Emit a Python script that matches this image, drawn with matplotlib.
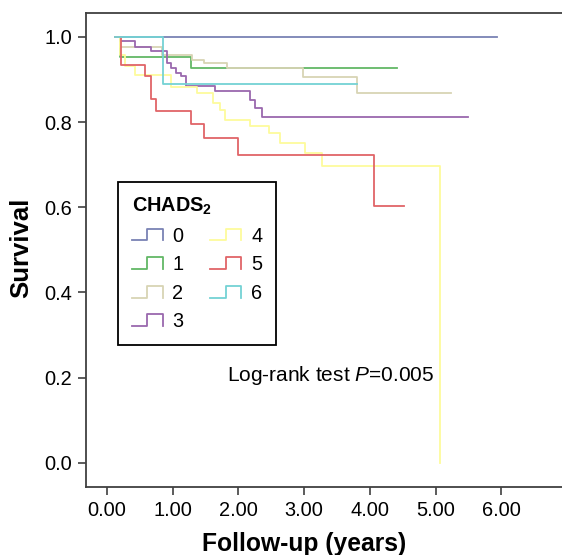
import numpy as np
import matplotlib
matplotlib.use("Agg")
import matplotlib.pyplot as plt
from matplotlib.lines import Line2D
from matplotlib.legend_handler import HandlerBase

plt.rcParams["font.family"] = ["Liberation Sans", "DejaVu Sans"]
plt.rcParams["mathtext.fontset"] = "custom"
plt.rcParams["mathtext.rm"] = "Liberation Sans"
plt.rcParams["mathtext.it"] = "Liberation Sans:italic"
plt.rcParams["mathtext.bf"] = "Liberation Sans:bold"

# Kaplan-Meier steps: step times, survival after each step, last follow-up
groups = ["0", "1", "2", "3", "4", "5", "6"]
t_first = 0.12

g0_times = []
g0_surv = []
g0_end = 5.94

g1_times = [0.20, 1.28]
g1_surv = [0.952, 0.926]
g1_end = 4.42

g2_times = [0.20, 0.83, 1.29, 1.47, 1.82, 2.99, 3.81]
g2_surv = [0.977, 0.958, 0.946, 0.938, 0.926, 0.905, 0.868]
g2_end = 5.24

g3_times = [0.20, 0.43, 0.67, 0.92, 0.98, 1.05, 1.12, 1.20, 1.64, 2.18, 2.26, 2.36]
g3_surv = [0.990, 0.977, 0.966, 0.938, 0.926, 0.915, 0.907, 0.885, 0.872, 0.852, 0.833, 0.813]
g3_end = 5.50

g4_times = [0.20, 0.27, 0.42, 0.98, 1.37, 1.62, 1.72, 1.80, 2.18, 2.46, 2.63, 3.01, 3.27, 5.07]
g4_surv = [0.958, 0.931, 0.911, 0.883, 0.868, 0.845, 0.829, 0.805, 0.790, 0.774, 0.751, 0.727, 0.697, 0.0]
g4_end = 5.07

g5_times = [0.21, 0.58, 0.665, 0.74, 1.28, 1.47, 2.00, 4.06]
g5_surv = [0.933, 0.907, 0.854, 0.825, 0.795, 0.762, 0.723, 0.602]
g5_end = 4.52

g6_times = [0.85]
g6_surv = [0.889]
g6_end = 3.80

colors = ["#7a82b4", "#62b866", "#d8d4b4", "#9a68ae", "#fdfb9c", "#e06468", "#74d2d4"]

data = [(g0_times, g0_surv, g0_end), (g1_times, g1_surv, g1_end),
        (g2_times, g2_surv, g2_end), (g3_times, g3_surv, g3_end),
        (g4_times, g4_surv, g4_end), (g5_times, g5_surv, g5_end),
        (g6_times, g6_surv, g6_end)]

x_ticks = [0, 1, 2, 3, 4, 5, 6]
x_labels = ["0.00", "1.00", "2.00", "3.00", "4.00", "5.00", "6.00"]
y_ticks = [0.0, 0.2, 0.4, 0.6, 0.8, 1.0]
y_labels = ["0.0", "0.2", "0.4", "0.6", "0.8", "1.0"]


class StepHandler(HandlerBase):
    # little step-shaped icon like the SPSS legend
    def create_artists(self, legend, orig_handle, xdescent, ydescent, width, height, fontsize, trans):
        xs = np.array([0, 0.5, 0.5, 1.0, 1.0]) * width - xdescent
        ys = np.array([0.1, 0.1, 0.95, 0.95, 0.1]) * height - ydescent
        ln = Line2D(xs, ys, color=orig_handle.get_color(), lw=1.3)
        ln.set_transform(trans)
        return [ln]


fig = plt.figure(figsize=(5.62, 5.55), dpi=100)
ax = fig.add_axes([0.153, 0.123, 0.847, 0.8536])

handles = []
for (times, surv, end), col, name in zip(data, colors, groups):
    x = [t_first] + times + [end]
    y = [1.0] + surv + [surv[-1] if surv else 1.0]
    line, = ax.step(x, y, where="post", color=col, lw=1.3, label=name)
    handles.append(line)

ax.set_xlim(-0.32, 6.925)
ax.set_ylim(-0.056, 1.056)
ax.set_xticks(x_ticks)
ax.set_xticklabels(x_labels)
ax.set_yticks(y_ticks)
ax.set_yticklabels(y_labels)
ax.tick_params(labelsize=14.4, length=6, width=1.2, color="#404040", pad=4)

for s in ["left", "bottom", "top"]:
    ax.spines[s].set_color("#404040")
    ax.spines[s].set_linewidth(1.3)
ax.spines["right"].set_visible(False)

ax.set_xlabel("Follow-up (years)", fontsize=17.7, fontweight="bold")
ax.xaxis.set_label_coords(0.459, -0.095)
ax.set_ylabel("Survival", fontsize=18.5, fontweight="bold")
ax.yaxis.set_label_coords(-0.111, 0.505)

ax.text(1.82, 0.204, "Log-rank test $P$=0.005", fontsize=15, va="center", ha="left")

leg = ax.legend(handles=handles, labels=groups, ncol=2, loc="upper left",
                bbox_to_anchor=(0.067, 0.643), borderaxespad=0,
                handler_map={Line2D: StepHandler()},
                title=r"$\mathbf{CHADS_2}$", title_fontsize=14.3, fontsize=14.3,
                fancybox=False, edgecolor="black", framealpha=1,
                handlelength=1.55, handletextpad=0.5, columnspacing=1.35,
                labelspacing=0.48, borderpad=0.7)
leg._legend_box.align = "left"
leg.get_frame().set_linewidth(1.3)

fig.savefig("out.png", dpi=100)
